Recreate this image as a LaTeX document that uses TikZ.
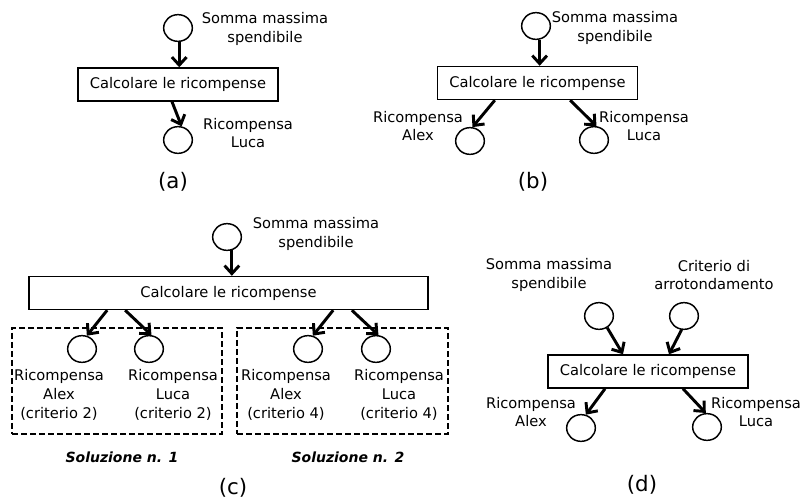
\documentclass[tikz,border=0pt]{standalone}
\usepackage{fontspec}
\setmainfont{DejaVu Sans}
\usetikzlibrary{positioning,calc,arrows.meta,shapes.geometric}

\begin{document}
\begin{tikzpicture}[
  x = 0.75pt,
  y = -0.75pt,
  font = \fontsize{11}{14}\selectfont,
  var/.style={draw,ellipse,line width=1.1pt,inner sep=0pt,minimum width=21.5pt,minimum height=20pt},
  fun/.style={draw,line width=1.1pt,minimum width=150pt,minimum height=24.75pt},
  lbl/.style={align=center,inner sep=0pt},
  flow/.style={-{Straight Barb[length=6pt,width=11pt]},line width=2.2pt},
  sol/.style={draw,line width=1.5pt,dash pattern=on 4.5pt off 2.25pt,minimum height=79.5pt},
  soltitle/.style={font=\fontsize{10.5}{13}\selectfont\bfseries\itshape},
  caption/.style={font=\fontsize{16}{18}\selectfont},
  ]
  \useasboundingbox (0,0) rectangle (801,499);

  \node [var] (sa) at (178,28) {};
  \node [lbl] (sa-lbl) at (265,29) {Somma massima\\spendibile};
  \node [fun] (fa) at (178,84.5) {Calcolare le ricompense};
  \node [var] (rla) at (178,140) {};
  \node [lbl] (rla-lbl) at (248,133) {Ricompensa\\Luca};
  \node [caption] (cap-a) at (173,182) {(a)};
  \draw [flow] (sa.-85) -- (sa.-85 |- fa.north);
  \draw [flow] ([xshift=-4.5pt]fa.south) -- (rla.75);

  \node [var] (sb) at (536,26) {};
  \node [lbl] (sb-lbl) at (615,28) {Somma massima\\spendibile};
  \node [fun] (fb) at (537.5,83) {Calcolare le ricompense};
  \node [var] (rab) at (470,141) {};
  \node [lbl] (rab-lbl) at (418,126) {Ricompensa\\Alex};
  \node [var] (rlb) at (594,140) {};
  \node [lbl] (rlb-lbl) at (644,126) {Ricompensa\\Luca};
  \node [caption] (cap-b) at (533,182) {(b)};
  \draw [flow] (sb.-75) -- (sb.-75 |- fb.north);
  \draw [flow] ([xshift=-32pt]fb.south) -- (rab.80);
  \draw [flow] ([xshift=24.5pt]fb.south) -- (rlb.80);

  \node [var] (sc) at (227,237) {};
  \node [lbl] (sc-lbl) at (316,234) {Somma massima\\spendibile};
  \node [fun,minimum width=299pt] (fc) at (228.5,293) {Calcolare le ricompense};
  \node [sol,minimum width=157.5pt] (sol1) at (117,381) {};
  \node [sol,minimum width=158.25pt] (sol2) at (342.5,381) {};
  \node [var] (ra1) at (82,349) {};
  \node [var] (rl1) at (149,349) {};
  \node [var] (ra2) at (308,349) {};
  \node [var] (rl2) at (376,349) {};
  \node [lbl] (ra1-lbl) at (59,395) {Ricompensa\\Alex\\(criterio 2)};
  \node [lbl] (rl1-lbl) at (173,395) {Ricompensa\\Luca\\(criterio 2)};
  \node [lbl] (ra2-lbl) at (286,395) {Ricompensa\\Alex\\(criterio 4)};
  \node [lbl] (rl2-lbl) at (399,395) {Ricompensa\\Luca\\(criterio 4)};
  \node [soltitle] (sol1-lbl) at (122,457) {Soluzione n. 1};
  \node [soltitle] (sol2-lbl) at (348,457) {Soluzione n. 2};
  \node [caption] (cap-c) at (233,488) {(c)};
  \draw [flow] (sc.-70) -- (sc.-70 |- fc.north);
  \draw [flow] ([xshift=-91pt]fc.south) -- (ra1.70);
  \draw [flow] ([xshift=-77.5pt]fc.south) -- (rl1.80);
  \draw [flow] ([xshift=78.5pt]fc.south) -- (ra2.70);
  \draw [flow] ([xshift=92.5pt]fc.south) -- (rl2.80);

  \node [lbl] (sd-lbl) at (549,275) {Somma massima\\spendibile};
  \node [lbl] (kd-lbl) at (714,275) {Criterio di\\arrotondamento};
  \node [var] (sd) at (599,316) {};
  \node [var] (kd) at (684,316) {};
  \node [fun] (fd) at (648,371.5) {Calcolare le ricompense};
  \node [var] (rad) at (581,428) {};
  \node [lbl] (rad-lbl) at (531,412) {Ricompensa\\Alex};
  \node [var] (rld) at (707,427) {};
  \node [lbl] (rld-lbl) at (756,412) {Ricompensa\\Luca};
  \node [caption] (cap-d) at (642,485) {(d)};
  \draw [flow] (sd.-55) -- ([xshift=-18.75pt]fd.north);
  \draw [flow] (kd.-100) -- ([xshift=15.75pt]fd.north);
  \draw [flow] ([xshift=-32.25pt]fd.south) -- (rad.70);
  \draw [flow] ([xshift=26.25pt]fd.south) -- (rld.95);
\end{tikzpicture}
\end{document}
